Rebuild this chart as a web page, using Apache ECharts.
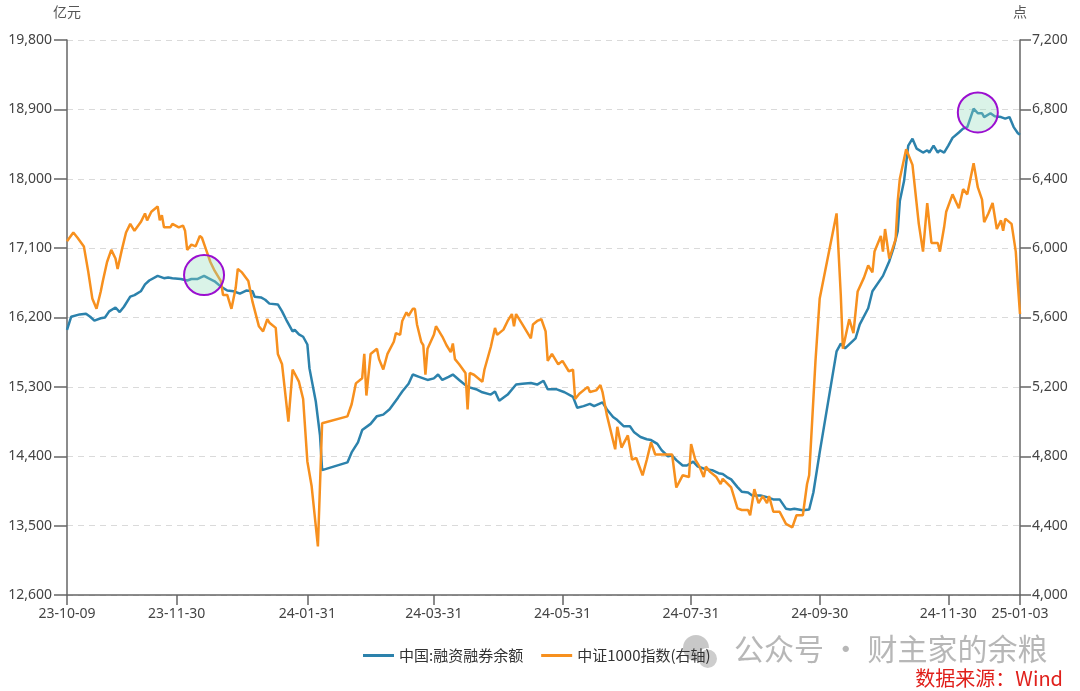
<!DOCTYPE html>
<html>
<head>
<meta charset="utf-8">
<script src="https://cdn.jsdelivr.net/npm/echarts@6/dist/echarts.min.js"></script>
<style>
  html, body { margin: 0; padding: 0; background: #fff; }
  #chart { width: 1080px; height: 691px; }
</style>
</head>
<body>
<div id="chart"></div>
<script>
// x-axis labels (calendar dates shown on the axis)
const tickDates = ['2023-10-09', '2023-11-30', '2024-01-31', '2024-03-31', '2024-05-31', '2024-07-31', '2024-09-30', '2024-11-30', '2025-01-03']

// 中国:融资融券余额 (亿元, left axis)
const marginDates = [
  '2023-10-09','2023-10-11','2023-10-15','2023-10-18','2023-10-20','2023-10-22','2023-10-25','2023-10-27','2023-10-29',
  '2023-11-01','2023-11-03','2023-11-05','2023-11-08','2023-11-10','2023-11-13','2023-11-15','2023-11-17','2023-11-21',
  '2023-11-24','2023-11-26','2023-11-28','2023-12-02','2023-12-05','2023-12-07','2023-12-10','2023-12-13','2023-12-15',
  '2023-12-18','2023-12-21','2023-12-24','2023-12-27','2023-12-30','2024-01-02','2024-01-05','2024-01-06','2024-01-09',
  '2024-01-11','2024-01-13','2024-01-17','2024-01-19','2024-01-21','2024-01-24','2024-01-25','2024-01-27','2024-01-29',
  '2024-01-31','2024-02-01','2024-02-04','2024-02-06','2024-02-07','2024-02-19','2024-02-21','2024-02-24','2024-02-26',
  '2024-03-01','2024-03-04','2024-03-07','2024-03-10','2024-03-14','2024-03-16','2024-03-19','2024-03-21','2024-03-24',
  '2024-03-28','2024-03-31','2024-04-02','2024-04-04','2024-04-07','2024-04-09','2024-04-12','2024-04-16','2024-04-20',
  '2024-04-23','2024-04-27','2024-04-29','2024-05-01','2024-05-05','2024-05-09','2024-05-12','2024-05-16','2024-05-19',
  '2024-05-22','2024-05-24','2024-05-28','2024-06-01','2024-06-05','2024-06-07','2024-06-10','2024-06-13','2024-06-15',
  '2024-06-19','2024-06-21','2024-06-24','2024-06-26','2024-06-29','2024-07-02','2024-07-04','2024-07-07','2024-07-10',
  '2024-07-12','2024-07-15','2024-07-17','2024-07-20','2024-07-22','2024-07-24','2024-07-27','2024-07-29','2024-08-01',
  '2024-08-03','2024-08-07','2024-08-10','2024-08-13','2024-08-15','2024-08-17','2024-08-19','2024-08-22','2024-08-24',
  '2024-08-27','2024-08-29','2024-09-02','2024-09-05','2024-09-08','2024-09-11','2024-09-14','2024-09-16','2024-09-18',
  '2024-09-22','2024-09-25','2024-09-27','2024-09-30','2024-10-08','2024-10-10','2024-10-12','2024-10-17','2024-10-19',
  '2024-10-23','2024-10-25','2024-10-30','2024-11-02','2024-11-04','2024-11-06','2024-11-07','2024-11-09','2024-11-11',
  '2024-11-13','2024-11-15','2024-11-18','2024-11-20','2024-11-21','2024-11-23','2024-11-25','2024-11-26','2024-11-28',
  '2024-11-30','2024-12-02','2024-12-05','2024-12-07','2024-12-09','2024-12-12','2024-12-14','2024-12-16','2024-12-17',
  '2024-12-20','2024-12-22','2024-12-25','2024-12-27','2024-12-29','2024-12-31','2025-01-02','2025-01-03'
]
const marginValues = [
  16040, 16210, 16240, 16250, 16210, 16160, 16190, 16200, 16280,
  16330, 16270, 16340, 16470, 16490, 16540, 16630, 16680, 16740,
  16710, 16720, 16710, 16700, 16680, 16700, 16700, 16740, 16710,
  16670, 16600, 16550, 16540, 16510, 16550, 16540, 16470, 16460,
  16430, 16380, 16370, 16280, 16170, 16020, 16040, 15980, 15950,
  15850, 15540, 15110, 14670, 14220, 14320, 14450, 14580, 14740,
  14820, 14920, 14940, 15010, 15160, 15240, 15340, 15460, 15430,
  15390, 15410, 15460, 15390, 15430, 15460, 15390, 15300, 15270,
  15230, 15200, 15240, 15120, 15200, 15330, 15340, 15350, 15330,
  15380, 15270, 15270, 15230, 15170, 15030, 15050, 15080, 15050,
  15100, 15010, 14910, 14870, 14790, 14790, 14710, 14650, 14620,
  14610, 14560, 14480, 14400, 14410, 14350, 14280, 14280, 14330,
  14270, 14230, 14220, 14180, 14170, 14130, 14100, 14000, 13940,
  13930, 13890, 13890, 13870, 13840, 13840, 13720, 13710, 13720,
  13700, 13710, 13930, 14450, 15760, 15860, 15800, 15930, 16110,
  16320, 16540, 16740, 16930, 17100, 17320, 17710, 17970, 18430,
  18520, 18390, 18340, 18370, 18340, 18430, 18340, 18370, 18340,
  18430, 18530, 18600, 18650, 18670, 18910, 18850, 18850, 18800,
  18850, 18810, 18800, 18780, 18800, 18670, 18590, 18570
]

// 中证1000指数 (点, right axis)
const csiDates = [
  '2023-10-09','2023-10-12','2023-10-14','2023-10-17','2023-10-19','2023-10-21','2023-10-23','2023-10-25','2023-10-26',
  '2023-10-28','2023-10-30','2023-11-01','2023-11-02','2023-11-04','2023-11-06','2023-11-08','2023-11-10','2023-11-13',
  '2023-11-15','2023-11-16','2023-11-18','2023-11-21','2023-11-22','2023-11-23','2023-11-24','2023-11-27','2023-11-28',
  '2023-12-01','2023-12-03','2023-12-04','2023-12-05','2023-12-07','2023-12-09','2023-12-11','2023-12-12','2023-12-14',
  '2023-12-16','2023-12-18','2023-12-21','2023-12-22','2023-12-24','2023-12-26','2023-12-28','2023-12-29','2023-12-31',
  '2024-01-03','2024-01-05','2024-01-08','2024-01-10','2024-01-12','2024-01-13','2024-01-16','2024-01-17','2024-01-19',
  '2024-01-22','2024-01-24','2024-01-27','2024-01-29','2024-01-31','2024-02-02','2024-02-05','2024-02-07','2024-02-19',
  '2024-02-21','2024-02-23','2024-02-26','2024-02-27','2024-02-28','2024-03-01','2024-03-04','2024-03-05','2024-03-07',
  '2024-03-09','2024-03-12','2024-03-13','2024-03-15','2024-03-16','2024-03-18','2024-03-19','2024-03-21','2024-03-22',
  '2024-03-23','2024-03-25','2024-03-26','2024-03-27','2024-03-28','2024-03-31','2024-04-01','2024-04-04','2024-04-06',
  '2024-04-08','2024-04-09','2024-04-10','2024-04-12','2024-04-15','2024-04-16','2024-04-17','2024-04-19','2024-04-21',
  '2024-04-23','2024-04-24','2024-04-27','2024-04-29','2024-04-30','2024-05-03','2024-05-05','2024-05-07','2024-05-08',
  '2024-05-09','2024-05-12','2024-05-14','2024-05-16','2024-05-17','2024-05-19','2024-05-21','2024-05-23','2024-05-24',
  '2024-05-26','2024-05-29','2024-05-31','2024-06-03','2024-06-05','2024-06-06','2024-06-08','2024-06-12','2024-06-13',
  '2024-06-16','2024-06-18','2024-06-19','2024-06-21','2024-06-25','2024-06-26','2024-06-28','2024-07-01','2024-07-03',
  '2024-07-05','2024-07-08','2024-07-10','2024-07-12','2024-07-14','2024-07-17','2024-07-20','2024-07-22','2024-07-24',
  '2024-07-27','2024-07-30','2024-07-31','2024-08-02','2024-08-04','2024-08-06','2024-08-07','2024-08-09','2024-08-12',
  '2024-08-14','2024-08-15','2024-08-19','2024-08-22','2024-08-24','2024-08-27','2024-08-28','2024-08-30','2024-09-01',
  '2024-09-03','2024-09-05','2024-09-06','2024-09-08','2024-09-11','2024-09-14','2024-09-17','2024-09-19','2024-09-22',
  '2024-09-24','2024-09-25','2024-09-28','2024-09-30','2024-10-08','2024-10-10','2024-10-11','2024-10-14','2024-10-16',
  '2024-10-18','2024-10-21','2024-10-23','2024-10-25','2024-10-26','2024-10-29','2024-10-30','2024-10-31','2024-11-02',
  '2024-11-05','2024-11-06','2024-11-07','2024-11-10','2024-11-13','2024-11-16','2024-11-18','2024-11-20','2024-11-22',
  '2024-11-25','2024-11-26','2024-11-28','2024-11-29','2024-12-02','2024-12-05','2024-12-07','2024-12-09','2024-12-12',
  '2024-12-14','2024-12-16','2024-12-17','2024-12-19','2024-12-21','2024-12-23','2024-12-25','2024-12-26','2024-12-27',
  '2024-12-30','2025-01-01','2025-01-02','2025-01-03'
]
const csiValues = [
  6040, 6090, 6060, 6010, 5870, 5710, 5650, 5750, 5810,
  5920, 5990, 5940, 5880, 5990, 6090, 6140, 6100, 6150,
  6200, 6160, 6210, 6240, 6160, 6190, 6120, 6120, 6140,
  6120, 6130, 6100, 5990, 6020, 6010, 6070, 6060, 5990,
  5920, 5870, 5810, 5730, 5730, 5650, 5770, 5880, 5860,
  5810, 5690, 5550, 5520, 5590, 5570, 5540, 5390, 5330,
  5000, 5300, 5230, 5130, 4770, 4630, 4280, 4990, 5030,
  5100, 5220, 5250, 5390, 5150, 5390, 5420, 5360, 5300,
  5390, 5460, 5510, 5500, 5580, 5630, 5610, 5650, 5650,
  5560, 5460, 5440, 5270, 5420, 5500, 5550, 5490, 5440,
  5400, 5450, 5360, 5330, 5280, 5070, 5280, 5270, 5250,
  5230, 5300, 5430, 5540, 5500, 5530, 5580, 5620, 5550,
  5620, 5560, 5520, 5480, 5560, 5580, 5590, 5520, 5350,
  5390, 5330, 5350, 5290, 5300, 5130, 5160, 5200, 5170,
  5180, 5210, 5170, 5040, 4840, 4970, 4850, 4920, 4780,
  4790, 4690, 4780, 4880, 4810, 4810, 4810, 4810, 4620,
  4690, 4680, 4870, 4780, 4740, 4680, 4740, 4710, 4680,
  4640, 4670, 4620, 4500, 4490, 4490, 4460, 4610, 4530,
  4570, 4530, 4570, 4480, 4480, 4410, 4390, 4460, 4460,
  4640, 4690, 5350, 5710, 6200, 5730, 5420, 5590, 5510,
  5750, 5830, 5900, 5860, 5980, 6070, 5980, 6110, 5940,
  6050, 6270, 6400, 6570, 6480, 6140, 5980, 6260, 6030,
  6030, 5980, 6120, 6210, 6310, 6230, 6340, 6310, 6490,
  6350, 6280, 6150, 6200, 6260, 6110, 6160, 6100, 6170,
  6140, 5980, 5790, 5620
]

// highlighted points on the margin line
const circleDates = ['2023-12-13', '2024-12-14']
const circleValues = [16750, 18860]

const seriesNames = ['中国:融资融券余额', '中证1000指数(右轴)']

// dates are placed on a plain value axis as day timestamps
const toTime = s => { const p = s.split('-').map(Number); return Date.UTC(p[0], p[1] - 1, p[2]) }
const pad = n => (n < 10 ? '0' : '') + n
const fmtDate = v => { const d = new Date(v); return String(d.getUTCFullYear()).slice(2) + '-' + pad(d.getUTCMonth() + 1) + '-' + pad(d.getUTCDate()) }
const tickTimes = tickDates.map(toTime)

const chart = echarts.init(document.getElementById('chart'))
const font = '"Noto Sans", "Noto Sans CJK SC", sans-serif'
const axisGray = '#666'
const labelGray = '#444'

const option = {
  animation: false,
  backgroundColor: '#fff',
  textStyle: { fontFamily: font },
  color: ['#2C82AC', '#F7901E'],
  grid: { left: 67, right: 60, top: 40, bottom: 96 },
  legend: {
    left: 358, top: 643,
    icon: 'rect', itemWidth: 31, itemHeight: 3, itemGap: 18,
    textStyle: { color: '#333', fontSize: 15, fontFamily: '"Noto Sans CJK SC", sans-serif' },
    data: seriesNames
  },
  xAxis: {
    type: 'value',
    min: tickTimes[0],
    max: tickTimes[tickTimes.length - 1],
    axisLine: { lineStyle: { color: axisGray, width: 1.5 } },
    axisTick: { show: true, length: 10, customValues: tickTimes, lineStyle: { color: axisGray, width: 1.5 } },
    axisLabel: { customValues: tickTimes, formatter: v => fmtDate(v), color: labelGray, fontSize: 14, margin: 12, hideOverlap: false, showMinLabel: true, showMaxLabel: true },
    splitLine: { show: false }
  },
  yAxis: [
    {
      type: 'value', min: 12600, max: 19800, interval: 900,
      name: '亿元', nameLocation: 'end', nameGap: 20,
      nameTextStyle: { color: '#555', fontSize: 14, align: 'center' },
      axisLine: { show: true, lineStyle: { color: axisGray, width: 1.5 } },
      axisTick: { show: true, length: 13, lineStyle: { color: axisGray, width: 1.5 } },
      axisLabel: { color: labelGray, fontSize: 14, margin: 15, formatter: v => v.toLocaleString('en-US') },
      splitLine: { show: true, lineStyle: { color: '#dadada', type: [6, 5], width: 1.2 } }
    },
    {
      type: 'value', min: 4000, max: 7200, interval: 400,
      name: '点', nameLocation: 'end', nameGap: 20,
      nameTextStyle: { color: '#555', fontSize: 14, align: 'center' },
      axisLine: { show: true, lineStyle: { color: axisGray, width: 1.5 } },
      axisTick: { show: true, length: 11, lineStyle: { color: axisGray, width: 1.5 } },
      axisLabel: { color: labelGray, fontSize: 14, margin: 12, formatter: v => v.toLocaleString('en-US') },
      splitLine: { show: false }
    }
  ],
  series: [
    {
      name: seriesNames[0],
      type: 'line',
      yAxisIndex: 0,
      symbol: 'none',
      lineStyle: { width: 2.5 },
      data: marginDates.map((d, i) => [toTime(d), marginValues[i]]),
      markPoint: {
        symbol: 'circle',
        symbolSize: 40,
        label: { show: false },
        itemStyle: { color: 'rgba(150, 220, 190, 0.35)', borderColor: '#9B0FD0', borderWidth: 2 },
        data: circleDates.map((d, i) => ({ coord: [toTime(d), circleValues[i]] }))
      }
    },
    {
      name: seriesNames[1],
      type: 'line',
      yAxisIndex: 1,
      symbol: 'none',
      lineStyle: { width: 2.5 },
      data: csiDates.map((d, i) => [toTime(d), csiValues[i]])
    }
  ],
  graphic: [
    // watermark
    { type: 'circle', left: 683, top: 635, shape: { r: 13 }, style: { fill: 'rgba(190,190,190,0.85)' } },
    { type: 'circle', left: 697, top: 648, shape: { r: 10 }, style: { fill: 'rgba(200,200,200,0.9)', stroke: '#fff', lineWidth: 1.5 } },
    { type: 'text', left: 734, top: 634, style: { text: '公众号 · 财主家的余粮', fill: 'rgba(170,170,170,0.85)', font: '30px "Noto Sans CJK SC", sans-serif' } },
    // source note
    { type: 'text', right: 17, top: 668, style: { text: '数据来源：Wind', fill: '#E0201B', font: '20px "Noto Sans CJK SC", sans-serif' } }
  ]
}

chart.setOption(option)
window.addEventListener('resize', () => chart.resize())
</script>
</body>
</html>
